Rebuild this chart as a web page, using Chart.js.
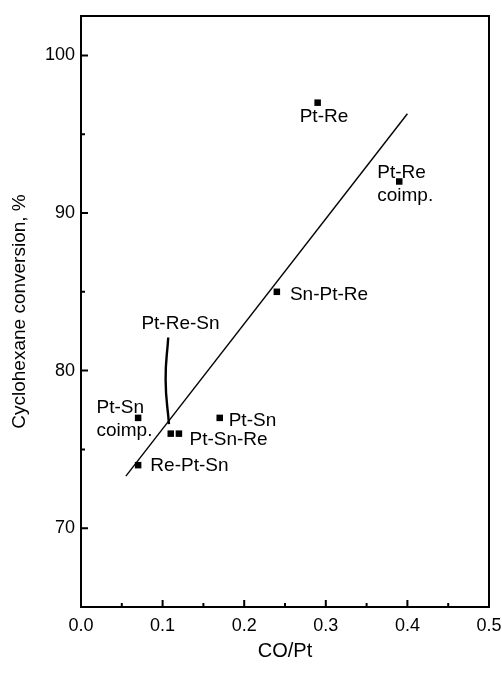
<!DOCTYPE html>
<html>
<head>
<meta charset="utf-8">
<script src="https://cdn.jsdelivr.net/npm/chart.js@4.4.1/dist/chart.umd.min.js"></script>
<style>
  html, body { margin: 0; padding: 0; background: #fff; }
  #wrap { width: 502px; height: 677px; }
</style>
</head>
<body>
<div id="wrap"><canvas id="chart"></canvas></div>
<script>
// measured points
const catalysts = ["Pt-Re", "Pt-Re coimp.", "Sn-Pt-Re", "Pt-Sn", "Pt-Sn-Re", "Pt-Re-Sn", "Pt-Sn coimp.", "Re-Pt-Sn"];
const coPt = [0.29, 0.39, 0.24, 0.17, 0.12, 0.11, 0.07, 0.07];
const conversion = [97, 92, 85, 77, 76, 76, 77, 74];

// linear fit line
const fitX = [0.055, 0.4];
const fitY = [73.3, 96.3];

// ticks
const xTicks = [0, 0.1, 0.2, 0.3, 0.4, 0.5];
const xMinor = [0.05, 0.15, 0.25, 0.35, 0.45];
const yTicks = [70, 80, 90, 100];
const yMinor = [75, 85, 95];

// point labels (text lines, left x and middle y in data units)
const labelText = [["Pt-Re"], ["Pt-Re", "coimp."], ["Sn-Pt-Re"], ["Pt-Re-Sn"], ["Pt-Sn", "coimp."], ["Pt-Sn"], ["Pt-Sn-Re"], ["Re-Pt-Sn"]];
const labelX = [0.268, 0.363, 0.256, 0.074, 0.019, 0.181, 0.133, 0.085];
const labelY = [96.1, 92.55, 84.8, 82.95, 77.65, 76.8, 75.6, 73.95];

// Pt-Re-Sn pointer curve
const pointerX = [0.1069, 0.1037, 0.1078];
const pointerY = [82.1, 79.4, 76.6];

const FONT = "'Liberation Sans', Arial, Helvetica, sans-serif";

const frameAndLabels = {
  id: "frameAndLabels",
  afterDraw(chart) {
    const { ctx, chartArea: a, scales } = chart;
    const x = scales.x, y = scales.y;
    ctx.save();
    ctx.strokeStyle = "#000";
    ctx.lineWidth = 2;
    ctx.strokeRect(a.left, a.top, a.right - a.left, a.bottom - a.top);

    // inward ticks
    ctx.lineWidth = 2;
    ctx.beginPath();
    xTicks.forEach(v => { const px = x.getPixelForValue(v); ctx.moveTo(px, a.bottom); ctx.lineTo(px, a.bottom - 7); });
    xMinor.forEach(v => { const px = x.getPixelForValue(v); ctx.moveTo(px, a.bottom); ctx.lineTo(px, a.bottom - 4); });
    yTicks.forEach(v => { const py = y.getPixelForValue(v); ctx.moveTo(a.left, py); ctx.lineTo(a.left + 7, py); });
    yMinor.forEach(v => { const py = y.getPixelForValue(v); ctx.moveTo(a.left, py); ctx.lineTo(a.left + 4, py); });
    ctx.stroke();

    // point labels
    ctx.fillStyle = "#000";
    ctx.font = "19px " + FONT;
    ctx.textAlign = "left";
    ctx.textBaseline = "middle";
    labelText.forEach((lines, i) => {
      const px = x.getPixelForValue(labelX[i]);
      const py = y.getPixelForValue(labelY[i]);
      lines.forEach((t, j) => ctx.fillText(t, px, py + j * 23));
    });
    ctx.restore();
  }
};

new Chart(document.getElementById("chart"), {
  type: "scatter",
  data: {
    datasets: [
      {
        label: "catalysts",
        data: coPt.map((v, i) => ({ x: v, y: conversion[i] })),
        pointStyle: "rect",
        pointRadius: 4.6,
        pointBorderWidth: 0,
        backgroundColor: "#000",
        borderColor: "#000"
      },
      {
        label: "fit",
        data: fitX.map((v, i) => ({ x: v, y: fitY[i] })),
        showLine: true,
        pointRadius: 0,
        borderColor: "#000",
        borderWidth: 1.4
      },
      {
        label: "pointer",
        data: pointerX.map((v, i) => ({ x: v, y: pointerY[i] })),
        showLine: true,
        tension: 0.5,
        pointRadius: 0,
        borderColor: "#000",
        borderWidth: 2.4
      }
    ]
  },
  options: {
    responsive: true,
    maintainAspectRatio: false,
    animation: false,
    layout: { padding: { top: 16, right: 13, left: 0, bottom: 0 } },
    plugins: { legend: { display: false }, tooltip: { enabled: false } },
    scales: {
      x: {
        type: "linear",
        min: 0,
        max: 0.5,
        afterBuildTicks: s => { s.ticks = xTicks.map(v => ({ value: v })); },
        afterFit: s => { s.height = 70; s.paddingLeft = 0; s.paddingRight = 0; },
        grid: { display: false, drawTicks: false },
        border: { display: false },
        ticks: {
          color: "#000",
          padding: 8,
          font: { size: 18, family: FONT },
          callback: v => v.toFixed(1)
        },
        title: {
          display: true,
          text: "CO/Pt",
          color: "#000",
          font: { size: 20, family: FONT },
          padding: { top: 0, bottom: 14 }
        }
      },
      y: {
        type: "linear",
        min: 65,
        max: 102.5,
        afterBuildTicks: s => { s.ticks = yTicks.map(v => ({ value: v })); },
        afterFit: s => { s.width = 81; s.paddingTop = 0; s.paddingBottom = 0; },
        grid: { display: false, drawTicks: false },
        border: { display: false },
        ticks: {
          color: "#000",
          padding: 6,
          font: { size: 18, family: FONT }
        },
        title: {
          display: true,
          text: "Cyclohexane conversion, %",
          color: "#000",
          font: { size: 19, family: FONT },
          padding: { top: 8, bottom: 0 }
        }
      }
    }
  },
  plugins: [frameAndLabels]
});
</script>
</body>
</html>
